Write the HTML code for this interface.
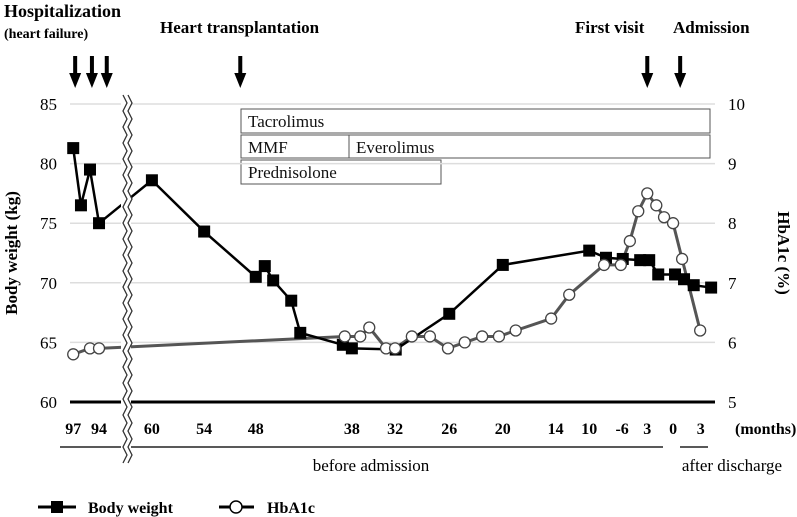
<!DOCTYPE html>
<html><head><meta charset="utf-8"><style>
body{margin:0;background:#fff;}
svg{display:block;font-family:"Liberation Serif",serif;}
.b{font-weight:bold;}
</style></head><body>
<svg id="c" width="797" height="517" viewBox="0 0 797 517">
<g>
<text x="4" y="17" class="b" font-size="18">Hospitalization</text>
<text x="4" y="38" class="b" font-size="14">(heart failure)</text>
<text x="160" y="33" class="b" font-size="17">Heart transplantation</text>
<text x="575" y="33" class="b" font-size="17">First visit</text>
<text x="673" y="33" class="b" font-size="17">Admission</text>
</g>
<g fill="#fff" stroke="#555" stroke-width="1">
<rect x="241" y="109" width="469" height="24"/>
<rect x="241" y="135" width="108" height="23"/>
<rect x="349" y="135" width="361" height="23"/>
<rect x="241" y="160" width="200" height="24"/>
</g>
<g font-size="17" fill="#111">
<text x="248" y="127">Tacrolimus</text>
<text x="248" y="153">MMF</text>
<text x="356" y="153">Everolimus</text>
<text x="248" y="178">Prednisolone</text>
</g>
<g id="grid"></g>
<g id="series"></g>
<g id="axes"></g>
<g>
<line x1="38" y1="507" x2="76" y2="507" stroke="#000" stroke-width="3"/>
<rect x="51" y="501" width="12" height="12" fill="#000"/>
<text x="88" y="513" class="b" font-size="16">Body weight</text>
<line x1="219" y1="507" x2="254" y2="507" stroke="#000" stroke-width="3"/>
<circle cx="236" cy="507" r="6" fill="#fff" stroke="#000" stroke-width="1.5"/>
<text x="267" y="513" class="b" font-size="16">HbA1c</text>
</g>
</svg>
<script>
const tickPos=[0.5,4.5,12.7,20.8,28.8,43.7,50.4,58.8,67.1,75.3,80.5,85.6,89.5,93.5,97.8];
const tickLabels=["97","94","60","54","48","38","32","26","20","14","10","-6","3","0","3"];
const weightX=[0.5,1.7,3.1,4.5,12.7,20.8,28.8,30.2,31.5,34.3,35.7,42.3,43.7,50.5,58.8,67.1,80.5,83.1,85.7,88.4,89.8,91.2,93.8,95.2,96.7,99.4];
const weightY=[81.3,76.5,79.5,75,78.6,74.3,70.5,71.4,70.2,68.5,65.8,64.8,64.5,64.4,67.4,71.5,72.7,72.1,72.0,71.9,71.9,70.7,70.7,70.3,69.8,69.6];
const hbX=[0.5,3.1,4.5,42.6,45.0,46.4,49.0,50.4,53.0,55.8,58.6,61.2,63.9,66.5,69.1,74.6,77.4,82.8,85.4,86.8,88.1,89.5,90.9,92.1,93.5,94.9,97.7];
const hbY=[5.8,5.9,5.9,6.1,6.1,6.25,5.9,5.9,6.1,6.1,5.9,6.0,6.1,6.1,6.2,6.4,6.8,7.3,7.3,7.7,8.2,8.5,8.3,8.1,8.0,7.4,6.2];
const leftTicks=[60,65,70,75,80,85];
const rightTicks=[5,6,7,8,9,10];
const arrowsX=[0.8,3.4,5.7,26.4,89.5,94.6];

const NS="http://www.w3.org/2000/svg";
const X=v=>70+v*6.45;
const YL=v=>402-(v-60)*11.92;
const YR=v=>402-(v-5)*59.6;
function mk(t,a,p){const e=document.createElementNS(NS,t);for(const k in a)e.setAttribute(k,a[k]);p.appendChild(e);return e;}
const grid=document.getElementById('grid'),ser=document.getElementById('series'),ax=document.getElementById('axes');

leftTicks.forEach((v,i)=>{
  if(v>60){const g=mk('line',{x1:70,x2:715,y1:YL(v),y2:YL(v),stroke:'#ddd','stroke-width':1.5},grid);
  
  }
  const t=mk('text',{x:57,y:YL(v)+6,'text-anchor':'end','font-size':17},ax);t.textContent=v;
  
  
});
rightTicks.forEach(v=>{
  const t=mk('text',{x:728,y:YR(v)+6,'font-size':17},ax);t.textContent=v;
  
  
});
const base=mk('line',{x1:70,x2:715,y1:YL(60),y2:YL(60),stroke:'#000','stroke-width':3},ax);


tickPos.forEach((p,i)=>{
  const t=mk('text',{x:X(p),y:434,'text-anchor':'middle','font-size':16,'font-weight':'bold'},ax);t.textContent=tickLabels[i];
  
  
});
let t=mk('text',{x:735,y:434,'font-size':16,'font-weight':'bold'},ax);t.textContent='(months)';


t=mk('text',{x:0,y:0,'font-size':17,'font-weight':'bold','text-anchor':'middle',transform:'translate(17,253) rotate(-90)'},ax);t.textContent='Body weight (kg)';


t=mk('text',{x:0,y:0,'font-size':17,'font-weight':'bold','text-anchor':'middle',transform:'translate(778,253) rotate(90)'},ax);t.textContent='HbA1c (%)';


let l=mk('line',{x1:60,x2:663,y1:447,y2:447,stroke:'#222','stroke-width':1.5},ax);


l=mk('line',{x1:680,x2:708,y1:447,y2:447,stroke:'#222','stroke-width':1.5},ax);


t=mk('text',{x:371,y:471,'font-size':17,'text-anchor':'middle'},ax);t.textContent='before admission';


t=mk('text',{x:732,y:471,'font-size':17,'text-anchor':'middle'},ax);t.textContent='after discharge';


arrowsX.forEach(p=>{
  const x=X(p);
  const g=mk('path',{d:`M${x-2} 56 V73 H${x-6} L${x} 88 L${x+6} 73 H${x+2} V56 Z`,fill:'#000'},ax);
  
  
});
// series
let hp=mk('polyline',{points:hbX.map((x,i)=>X(x)+','+YR(hbY[i])).join(' '),fill:'none',stroke:'#555','stroke-width':3},ser);


let wp=mk('polyline',{points:weightX.map((x,i)=>X(x)+','+YL(weightY[i])).join(' '),fill:'none',stroke:'#000','stroke-width':2.5},ser);


weightX.forEach((x,i)=>{
  const r=mk('rect',{x:X(x)-6,y:YL(weightY[i])-6,width:12,height:12,fill:'#000'},ser);
  
  
});
hbX.forEach((x,i)=>{
  const c=mk('circle',{cx:X(x),cy:YR(hbY[i]),r:5.5,fill:'#fff',stroke:'#444','stroke-width':1.3},ser);
  
  
});
// axis break
let d1='';
for(let y=95;y<=470;y+=8){d1+=(y===95?'M':'L')+(124+(Math.floor((y-95)/8)%2?3:-1))+' '+y+' ';}
const br=mk('g',{},ax);


mk('rect',{x:121,y:95,width:10,height:375,fill:'#fff'},br);
mk('path',{d:d1,fill:'none',stroke:'#333','stroke-width':1.3},br);
mk('path',{d:d1,fill:'none',stroke:'#333','stroke-width':1.3,transform:'translate(5,0)'},br);
</script>
</body></html>
